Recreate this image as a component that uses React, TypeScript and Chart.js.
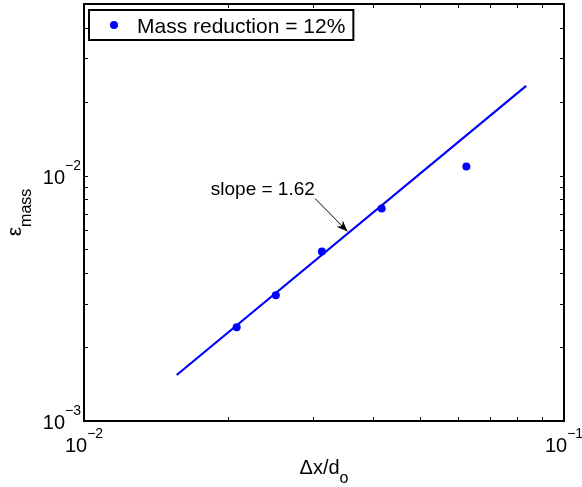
import React, { useEffect, useRef } from 'react';
import { Chart, registerables } from 'chart.js';

Chart.register(...registerables);

// ---- data ----
const xValues = [0.0208, 0.0251, 0.0313, 0.0417, 0.0626];
const yValues = [0.00241, 0.00325, 0.00491, 0.00734, 0.01088];
const fitX = [0.0156, 0.0834];
const fitY = [0.00154, 0.0232];

const xMajorTicks = [0.01, 0.1];
const xTickExponents = ['\u22122', '\u22121'];
const yMajorTicks = [0.001, 0.01];
const yTickExponents = ['\u22123', '\u22122'];
const xMinorTicks = [0.02, 0.03, 0.04, 0.05, 0.06, 0.07, 0.08, 0.09];
const yMinorTicks = [0.002, 0.003, 0.004, 0.005, 0.006, 0.007, 0.008, 0.009, 0.02, 0.03, 0.04, 0.05];

const legendLabel = 'Mass reduction = 12%';
const annotationText = 'slope = 1.62';
const annotationTextPos = [0.01837, 0.00885];
const arrowFrom = [0.0303, 0.00806];
const arrowTo = [0.0354, 0.00592];

const FONT = '"Liberation Sans", Arial, Helvetica, sans-serif';
const BLUE = '#0000ff';

const decorPlugin = {
  id: 'decor',
  afterDraw(chart: any) {
    const ctx: CanvasRenderingContext2D = chart.ctx;
    const xs = chart.scales.x;
    const ys = chart.scales.y;
    const a = chart.chartArea;
    ctx.save();

    // ticks (inward, all four sides)
    ctx.strokeStyle = '#000';
    ctx.lineWidth = 1;
    const tl = 4;
    const allX = [...xMajorTicks, ...xMinorTicks];
    const allY = [...yMajorTicks, ...yMinorTicks];
    ctx.beginPath();
    allX.forEach((v) => {
      const px = Math.round(xs.getPixelForValue(v)) + 0.5;
      ctx.moveTo(px, a.bottom);
      ctx.lineTo(px, a.bottom - tl);
      ctx.moveTo(px, a.top);
      ctx.lineTo(px, a.top + tl);
    });
    allY.forEach((v) => {
      const py = Math.round(ys.getPixelForValue(v)) + 0.5;
      ctx.moveTo(a.left, py);
      ctx.lineTo(a.left + tl, py);
      ctx.moveTo(a.right, py);
      ctx.lineTo(a.right - tl, py);
    });
    ctx.stroke();

    // border
    ctx.lineWidth = 2;
    ctx.strokeRect(a.left, a.top, a.right - a.left, a.bottom - a.top);

    // tick labels with superscripts
    ctx.fillStyle = '#000';
    const baseFont = `20px ${FONT}`;
    const expFont = `14px ${FONT}`;
    const measure = (t: string, f: string) => {
      ctx.font = f;
      return ctx.measureText(t).width;
    };
    const wBase = measure('10', baseFont);
    ctx.textBaseline = 'alphabetic';
    ctx.textAlign = 'left';
    xMajorTicks.forEach((v, i) => {
      const px = xs.getPixelForValue(v);
      const we = measure(xTickExponents[i], expFont);
      const total = wBase + we;
      const x0 = px - total / 2;
      const by = a.bottom + 31;
      ctx.font = baseFont;
      ctx.fillText('10', x0, by);
      ctx.font = expFont;
      ctx.fillText(xTickExponents[i], x0 + wBase, by - 14);
    });
    yMajorTicks.forEach((v, i) => {
      const py = ys.getPixelForValue(v);
      const we = measure(yTickExponents[i], expFont);
      const xr = a.left - 3;
      const by = py + 8;
      ctx.font = baseFont;
      ctx.fillText('10', xr - we - wBase, by);
      ctx.font = expFont;
      ctx.fillText(yTickExponents[i], xr - we, by - 14);
    });

    // x axis title: Δx/d_o
    {
      const main = '\u0394x/d';
      const sub = 'o';
      const wm = measure(main, baseFont);
      const ws = measure(sub, `16px ${FONT}`);
      const cx = (a.left + a.right) / 2;
      const x0 = cx - (wm + ws) / 2;
      const by = a.bottom + 53;
      ctx.font = baseFont;
      ctx.fillText(main, x0, by);
      ctx.font = `16px ${FONT}`;
      ctx.fillText(sub, x0 + wm, by + 9);
    }

    // y axis title: ε_mass (rotated)
    {
      const main = '\u03b5';
      const sub = 'mass';
      const mainF = `21px ${FONT}`;
      const subF = `16px ${FONT}`;
      const wm = measure(main, mainF);
      const ws = measure(sub, subF);
      const cy = (a.top + a.bottom) / 2;
      ctx.save();
      ctx.translate(21, cy);
      ctx.rotate(-Math.PI / 2);
      const x0 = -(wm + ws) / 2;
      ctx.font = mainF;
      ctx.fillText(main, x0, 0);
      ctx.font = subF;
      ctx.fillText(sub, x0 + wm, 10);
      ctx.restore();
    }

    // annotation text and arrow
    {
      const tx = xs.getPixelForValue(annotationTextPos[0]);
      const ty = ys.getPixelForValue(annotationTextPos[1]);
      ctx.font = `19px ${FONT}`;
      ctx.fillText(annotationText, tx, ty + 6);
      const x1 = xs.getPixelForValue(arrowFrom[0]);
      const y1 = ys.getPixelForValue(arrowFrom[1]);
      const x2 = xs.getPixelForValue(arrowTo[0]);
      const y2 = ys.getPixelForValue(arrowTo[1]);
      ctx.lineWidth = 1;
      ctx.beginPath();
      ctx.moveTo(x1, y1);
      ctx.lineTo(x2, y2);
      ctx.stroke();
      const ang = Math.atan2(y2 - y1, x2 - x1);
      const hl = 12;
      const hw = 0.38;
      ctx.beginPath();
      ctx.moveTo(x2, y2);
      ctx.lineTo(x2 - hl * Math.cos(ang - hw), y2 - hl * Math.sin(ang - hw));
      ctx.lineTo(x2 - hl * 0.65 * Math.cos(ang), y2 - hl * 0.65 * Math.sin(ang));
      ctx.lineTo(x2 - hl * Math.cos(ang + hw), y2 - hl * Math.sin(ang + hw));
      ctx.closePath();
      ctx.fill();
    }

    // legend
    {
      const lx = a.left + 5;
      const ly = a.top + 6;
      ctx.font = `21px ${FONT}`;
      const tw = ctx.measureText(legendLabel).width;
      const w = 50 + tw + 6;
      const h = 30;
      ctx.fillStyle = '#fff';
      ctx.fillRect(lx, ly, w, h);
      ctx.lineWidth = 2;
      ctx.strokeStyle = '#000';
      ctx.strokeRect(lx, ly, w, h);
      ctx.fillStyle = BLUE;
      ctx.beginPath();
      ctx.arc(lx + 25, ly + 15, 4, 0, Math.PI * 2);
      ctx.fill();
      ctx.fillStyle = '#000';
      ctx.fillText(legendLabel, lx + 48, ly + 23);
    }

    ctx.restore();
  },
};

export default function App() {
  const ref = useRef<HTMLCanvasElement | null>(null);
  useEffect(() => {
    if (!ref.current) return;
    const chart = new Chart(ref.current, {
      type: 'scatter',
      data: {
        datasets: [
          {
            label: 'fit',
            data: fitX.map((x, i) => ({ x, y: fitY[i] })),
            showLine: true,
            borderColor: BLUE,
            borderWidth: 2.2,
            pointRadius: 0,
          },
          {
            label: legendLabel,
            data: xValues.map((x, i) => ({ x, y: yValues[i] })),
            backgroundColor: BLUE,
            borderColor: BLUE,
            pointRadius: 4,
            borderWidth: 0,
          },
        ],
      },
      options: {
        responsive: false,
        animation: false,
        layout: { padding: { left: 84, top: 3, right: 18, bottom: 66 } },
        plugins: { legend: { display: false }, tooltip: { enabled: false } },
        scales: {
          x: { type: 'logarithmic', min: 0.01, max: 0.1, display: false },
          y: { type: 'logarithmic', min: 0.001, max: 0.05, display: false },
        },
      },
      plugins: [decorPlugin],
    });
    return () => chart.destroy();
  }, []);
  return (
    <div style={{ position: 'fixed', left: 0, top: 0, width: 582, height: 487, background: '#fff' }}>
      <canvas ref={ref} width={582} height={487} style={{ width: 582, height: 487 }} />
    </div>
  );
}
